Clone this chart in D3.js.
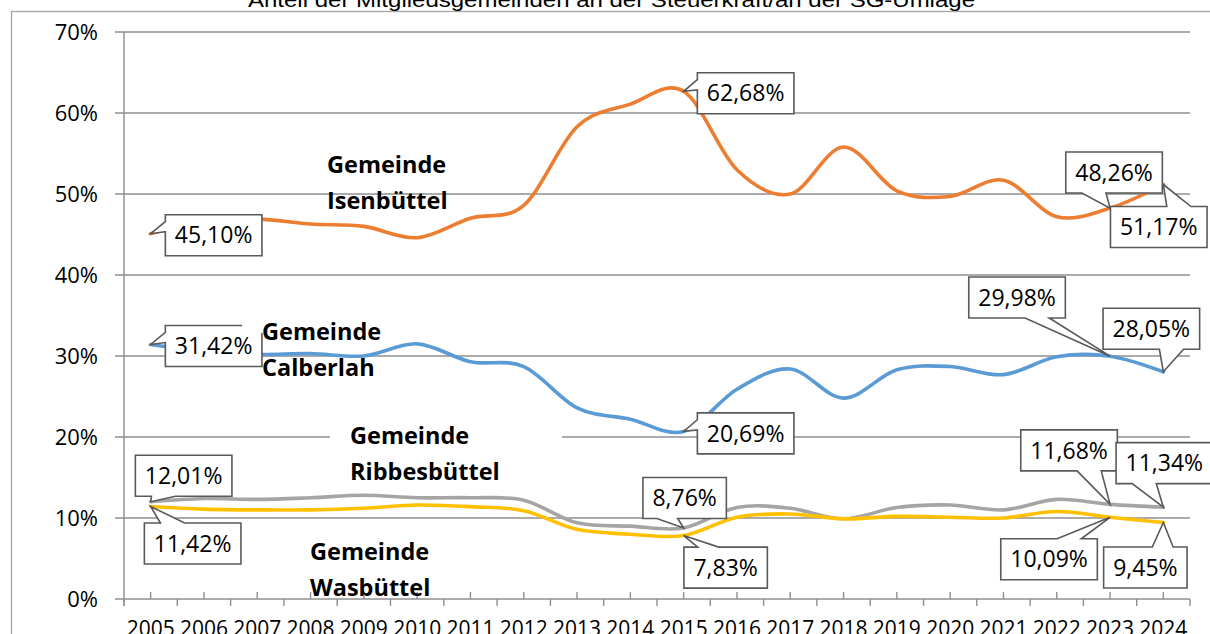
<!DOCTYPE html>
<html><head><meta charset="utf-8">
<script src="https://cdn.jsdelivr.net/npm/d3@7"></script>
<style>html,body{margin:0;padding:0;background:#fff;overflow:hidden}</style>
</head><body><svg id="c" width="1210" height="634"></svg>
<script>
// ---------------- data ----------------
const title = "Anteil der Mitgliedsgemeinden an der Steuerkraft/an der SG-Umlage";
const years = ["2005","2006","2007","2008","2009","2010","2011","2012","2013","2014","2015","2016","2017","2018","2019","2020","2021","2022","2023","2024"];
const yTicks = [0,10,20,30,40,50,60,70];
const isenbuettel  = [45.10,46.6,46.9,46.3,46.0,44.6,47.0,48.6,58.3,61.1,62.68,53.0,50.0,55.8,50.4,49.7,51.7,47.2,48.26,51.17];
const calberlah    = [31.42,30.6,30.2,30.3,30.0,31.5,29.3,28.7,23.6,22.2,20.69,25.9,28.4,24.8,28.3,28.7,27.7,29.9,29.98,28.05];
const ribbesbuettel= [12.01,12.4,12.3,12.5,12.8,12.5,12.5,12.2,9.4,9.0,8.76,11.3,11.2,9.9,11.3,11.6,11.0,12.3,11.68,11.34];
const wasbuettel   = [11.42,11.1,11.0,11.0,11.2,11.6,11.4,10.9,8.6,8.0,7.83,10.1,10.5,9.9,10.2,10.1,10.0,10.8,10.09,9.45];
const seriesLabels = [["Gemeinde","Isenbüttel"],["Gemeinde","Calberlah"],["Gemeinde","Ribbesbüttel"],["Gemeinde","Wasbüttel"]];

// ---------------- layout / style ----------------
const seriesData = [isenbuettel, calberlah, ribbesbuettel, wasbuettel];
const colors = ["#ED7D31","#5B9BD5","#A5A5A5","#FFC000"];
const drawOrder = [1,0,2,3];
// callout placement: series index, point index, box-centre offset from the point (px)
const callouts = [
  {s:0,i:0,dx:63,dy:1.5},{s:0,i:10,dx:62,dy:2},{s:0,i:18,dx:4,dy:-35.6},{s:0,i:19,dx:-4.6,dy:42.5},
  {s:1,i:0,dx:63,dy:1.5},{s:1,i:10,dx:62,dy:2},{s:1,i:18,dx:-93,dy:-58.7},{s:1,i:19,dx:-12,dy:-43},
  {s:2,i:0,dx:33,dy:-26},{s:2,i:10,dx:1,dy:-30},{s:2,i:18,dx:-41,dy:-54},{s:2,i:19,dx:1,dy:-44},
  {s:3,i:0,dx:42,dy:37},{s:3,i:10,dx:42,dy:32},{s:3,i:18,dx:-61,dy:42},{s:3,i:19,dx:-18,dy:45}
];
const groupLabelPos = [
  {x:327,y:173,bg:null},
  {x:262,y:340,bg:[242,312,150,21]},
  {x:350,y:444,bg:[330,418,232,68]},
  {x:310,y:560,bg:null}
];

const svg = d3.select("#c");
const plot = {left:124,right:1190,top:32,bottom:599};
const x = d3.scaleBand().domain(years).range([plot.left, plot.right]);
const xc = d => x(d) + x.bandwidth()/2;
const y = d3.scaleLinear().domain([0,70]).range([plot.bottom, plot.top]);
const FONT = "'Open Sans','Noto Sans',sans-serif";
const gridCol = "#8f8f8f";

// frame
svg.append("rect").attr("x",11.5).attr("y",11.5).attr("width",1300).attr("height",700)
  .attr("fill","none").attr("stroke","#a6a6a6").attr("stroke-width",1.3);

// title
svg.append("text").attr("x",611.5).attr("y",6.5).attr("text-anchor","middle")
  .attr("font-family","'Liberation Sans Narrow','Liberation Sans',Arial,sans-serif")
  .attr("font-size",20).attr("fill","#000")
  .attr("textLength",727).attr("lengthAdjust","spacingAndGlyphs").text(title);

// gridlines + y ticks
const gy = svg.append("g");
gy.selectAll("line.grid").data(yTicks).join("line").attr("class","grid")
  .attr("x1",plot.left-9).attr("x2",plot.right).attr("y1",d=>y(d)).attr("y2",d=>y(d))
  .attr("stroke",gridCol).attr("stroke-width",1.4);
gy.selectAll("text").data(yTicks).join("text")
  .attr("x",98).attr("y",d=>y(d)+7.8).attr("text-anchor","end")
  .attr("font-family",FONT).attr("font-size",22).attr("fill","#000")
  .text(d=>d+"%");
// y axis line
svg.append("line").attr("x1",plot.left).attr("x2",plot.left).attr("y1",y(70)).attr("y2",plot.bottom+7)
  .attr("stroke",gridCol).attr("stroke-width",1.4);

// x axis ticks: inside ticks at category centres, outside ticks at band edges
const gx = svg.append("g").attr("transform",`translate(0,${plot.bottom})`)
  .call(d3.axisBottom(x).tickSize(-7).tickSizeOuter(0).tickFormat(""));
gx.select(".domain").remove();
gx.selectAll(".tick line").attr("stroke",gridCol).attr("stroke-width",1.4);
const edges = years.map(d=>x(d)).concat([x.range()[1]]);
svg.append("g").selectAll("line").data(edges).join("line")
  .attr("x1",d=>d).attr("x2",d=>d).attr("y1",plot.bottom).attr("y2",plot.bottom+7)
  .attr("stroke",gridCol).attr("stroke-width",1.4);
svg.append("g").selectAll("text").data(years).join("text")
  .attr("x",d=>xc(d)).attr("y",636).attr("text-anchor","middle")
  .attr("font-family",FONT).attr("font-size",21).attr("fill","#000").text(d=>d);

// series lines
const line = d3.line().x((d,i)=>xc(years[i])).y(d=>y(d)).curve(d3.curveCardinal.tension(0));
drawOrder.forEach(k=>{
  svg.append("path").datum(seriesData[k]).attr("d",line).attr("fill","none")
    .attr("stroke",colors[k]).attr("stroke-width",3.6).attr("stroke-linejoin","round").attr("stroke-linecap","round");
});

// callouts (Excel wedgeRectCallout geometry)
function calloutPath(l,t,w,h,px,py){
  const r=l+w,b=t+h,hc=l+w/2,vc=t+h/2;
  const dxPos=px-hc, dyPos=py-vc;
  const dq=dxPos*h/w, dz=Math.abs(dyPos)-Math.abs(dq);
  const x1=l+w*(dxPos>0?7:2)/12, x2=l+w*(dxPos>0?10:5)/12;
  const y1=t+h*(dyPos>0?7:2)/12, y2=t+h*(dyPos>0?10:5)/12;
  const xl = dz>0? l : (dxPos>0? l : px);
  const yl = dz>0? y1 : (dxPos>0? y1 : py);
  const xt = dz>0? (dyPos>0? x1 : px) : x1;
  const yt = dz>0? (dyPos>0? t : py) : t;
  const xr = dz>0? r : (dxPos>0? px : r);
  const yr = dz>0? y1 : (dxPos>0? py : y1);
  const xb = dz>0? (dyPos>0? px : x1) : x1;
  const yb = dz>0? (dyPos>0? py : b) : b;
  return `M${l},${t}L${x1},${t}L${xt},${yt}L${x2},${t}L${r},${t}L${r},${y1}L${xr},${yr}L${r},${y2}L${r},${b}L${x2},${b}L${xb},${yb}L${x1},${b}L${l},${b}L${l},${y2}L${xl},${yl}L${l},${y1}Z`;
}
const fmt = v => d3.format(".2f")(v).replace(".",",")+"%";
const gc = svg.append("g");
callouts.forEach(c=>{
  const v = seriesData[c.s][c.i];
  const px = xc(years[c.i]), py = y(v);
  const cx = px + c.dx, cy = py + c.dy;
  const g = gc.append("g");
  const path = g.append("path");
  const t = g.append("text").attr("x",cx).attr("y",cy+8.2).attr("text-anchor","middle")
    .attr("font-family",FONT).attr("font-size",23).attr("fill","#000").text(fmt(v));
  const w = t.node().getComputedTextLength() + 19, h = 41;
  path.attr("d",calloutPath(cx-w/2,cy-h/2,w,h,px,py)).attr("fill","#fff")
    .attr("stroke","#595959").attr("stroke-width",1.6).attr("stroke-linejoin","miter");
});

// series name labels
seriesLabels.forEach((lab,k)=>{
  const p = groupLabelPos[k];
  if (p.bg) svg.append("rect").attr("x",p.bg[0]).attr("y",p.bg[1]).attr("width",p.bg[2]).attr("height",p.bg[3]).attr("fill","#fff");
  const t = svg.append("text").attr("font-family",FONT).attr("font-weight","bold").attr("font-size",23.5).attr("fill","#000");
  lab.forEach((s,j)=>t.append("tspan").attr("x",p.x).attr("y",p.y+j*35.5).text(s));
});
</script>
</body></html>
